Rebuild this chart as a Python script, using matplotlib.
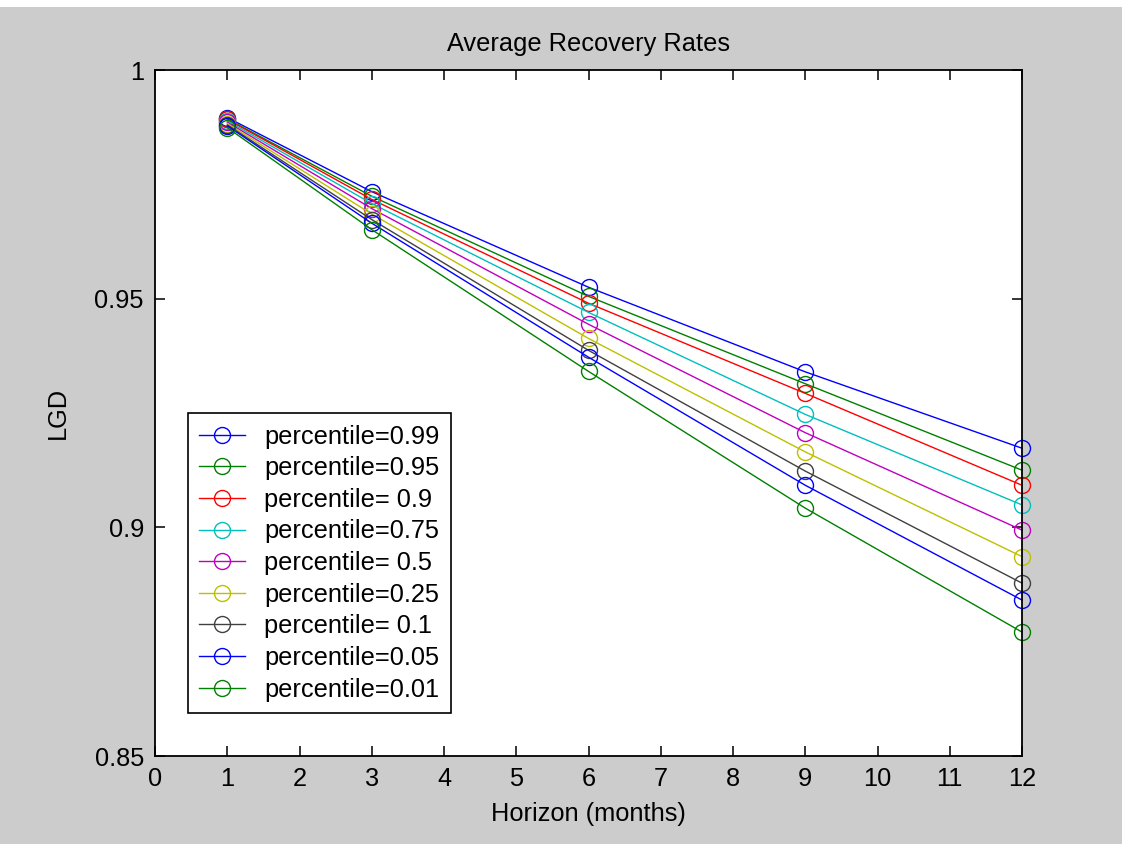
import matplotlib
matplotlib.use("Agg")
import matplotlib.pyplot as plt
from matplotlib.patches import Rectangle

horizon = [1, 3, 6, 9, 12]
labels = ["percentile=0.99", "percentile=0.95", "percentile= 0.9", "percentile=0.75",
          "percentile= 0.5", "percentile=0.25", "percentile= 0.1", "percentile=0.05",
          "percentile=0.01"]
p099 = [0.9896, 0.9734, 0.9525, 0.9340, 0.9173]
p095 = [0.9893, 0.9724, 0.9505, 0.9314, 0.9125]
p090 = [0.9892, 0.9717, 0.9490, 0.9293, 0.9092]
p075 = [0.9889, 0.9708, 0.9470, 0.9247, 0.9049]
p050 = [0.9886, 0.9697, 0.9444, 0.9207, 0.8994]
p025 = [0.9883, 0.9685, 0.9413, 0.9165, 0.8936]
p010 = [0.9880, 0.9673, 0.9387, 0.9123, 0.8878]
p005 = [0.9878, 0.9665, 0.9372, 0.9092, 0.8841]
p001 = [0.9874, 0.9651, 0.9341, 0.9042, 0.8771]
series = [p099, p095, p090, p075, p050, p025, p010, p005, p001]
colors = [(0, 0, 1), (0, 0.5, 0), (1, 0, 0), (0, 0.75, 0.75), (0.75, 0, 0.75),
          (0.75, 0.75, 0), (0.25, 0.25, 0.25), (0, 0, 1), (0, 0.5, 0)]

plt.rcParams['font.family'] = ['Liberation Sans', 'DejaVu Sans']
fs = 18.3

fig = plt.figure(figsize=(11.22, 8.44), dpi=100, facecolor='#cccccc')
fig.patches.append(Rectangle((0, 1 - 7 / 844), 1, 7 / 844, transform=fig.transFigure,
                             facecolor='white', edgecolor='none', zorder=-1))
ax = fig.add_axes([155 / 1122, 1 - 756 / 844, 867 / 1122, 686 / 844])
ax.set_facecolor('white')

for vals, lab, c in zip(series, labels, colors):
    ax.plot(horizon, vals, '-o', color=c, label=lab, lw=1.0, markersize=11.5,
            markerfacecolor='none', markeredgewidth=1.0, clip_on=False)

ax.set_xlim(0, 12)
ax.set_ylim(0.85, 1)
ax.set_xticks(range(0, 13))
ax.set_yticks([0.85, 0.9, 0.95, 1])
ax.set_yticklabels(['0.85', '0.9', '0.95', '1'])
ax.tick_params(direction='in', top=True, right=True, length=7, width=1.1,
               labelsize=fs, pad=8)
for s in ax.spines.values():
    s.set_linewidth(1.3)

ax.set_title('Average Recovery Rates', fontsize=fs, pad=14)
ax.set_xlabel('Horizon (months)', fontsize=fs, labelpad=8)
ax.set_ylabel('LGD', fontsize=fs, labelpad=18)

leg = ax.legend(loc='lower left', bbox_to_anchor=(0.038, 0.0627), borderaxespad=0,
                fontsize=fs, frameon=True, fancybox=False, framealpha=1,
                edgecolor='black', handlelength=1.8, handletextpad=0.75,
                labelspacing=0.3, borderpad=0.45)
leg.get_frame().set_linewidth(1.2)

fig.savefig('out.png', dpi=100, facecolor=fig.get_facecolor())
